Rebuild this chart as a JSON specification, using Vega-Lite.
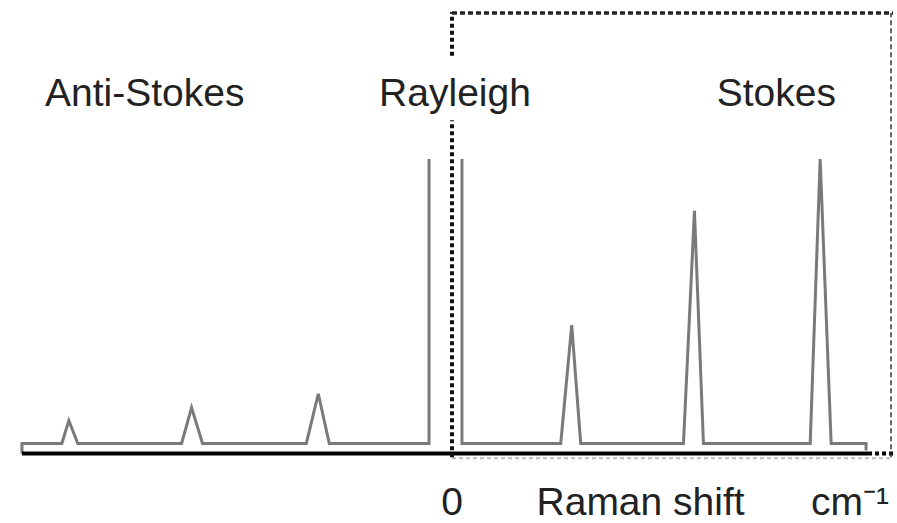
{
  "$schema": "https://vega.github.io/schema/vega-lite/v6.json",
  "width": 897,
  "height": 523,
  "padding": 0,
  "autosize": {"type": "fit", "contains": "padding"},
  "config": {"view": {"stroke": null}, "background": "white"},
  "datasets": {
    "spectrum": [
      {"part": "anti", "shift": -431, "intensity": 0},
      {"part": "anti", "shift": -431, "intensity": 10},
      {"part": "anti", "shift": -391, "intensity": 10},
      {"part": "anti", "shift": -384, "intensity": 33},
      {"part": "anti", "shift": -375, "intensity": 10},
      {"part": "anti", "shift": -271, "intensity": 10},
      {"part": "anti", "shift": -261, "intensity": 46},
      {"part": "anti", "shift": -250, "intensity": 10},
      {"part": "anti", "shift": -146, "intensity": 10},
      {"part": "anti", "shift": -134, "intensity": 60},
      {"part": "anti", "shift": -123, "intensity": 10},
      {"part": "anti", "shift": -23, "intensity": 10},
      {"part": "anti", "shift": -23, "intensity": 296},
      {"part": "stokes", "shift": 10, "intensity": 296},
      {"part": "stokes", "shift": 10, "intensity": 10},
      {"part": "stokes", "shift": 109, "intensity": 10},
      {"part": "stokes", "shift": 120, "intensity": 129},
      {"part": "stokes", "shift": 129, "intensity": 10},
      {"part": "stokes", "shift": 232, "intensity": 10},
      {"part": "stokes", "shift": 243, "intensity": 244},
      {"part": "stokes", "shift": 252, "intensity": 10},
      {"part": "stokes", "shift": 359, "intensity": 10},
      {"part": "stokes", "shift": 369, "intensity": 296},
      {"part": "stokes", "shift": 380, "intensity": 10},
      {"part": "stokes", "shift": 415, "intensity": 10},
      {"part": "stokes", "shift": 415, "intensity": 3}
    ],
    "lines": [
      {"kind": "axis", "x": -431, "x2": 417, "y": 0, "y2": 0},
      {"kind": "axisdots", "x": 417, "x2": 444, "y": 0, "y2": 0},
      {"kind": "boxleft", "x": 0, "x2": 0, "y": -4, "y2": 335},
      {"kind": "boxleft", "x": 0, "x2": 0, "y": 400, "y2": 444},
      {"kind": "boxtop", "x": 0, "x2": 442, "y": 443, "y2": 443},
      {"kind": "boxright", "x": 440, "x2": 440, "y": -4, "y2": 443},
      {"kind": "boxbottom", "x": 0, "x2": 440, "y": -5, "y2": -5}
    ],
    "labels": [
      {"row": "top", "label": "Anti-Stokes", "x": -308, "y": 349},
      {"row": "top", "label": "Rayleigh", "x": 3, "y": 349},
      {"row": "top", "label": "Stokes", "x": 325, "y": 349},
      {"row": "bottom", "label": "0", "x": 0, "y": -62},
      {"row": "bottom", "label": "Raman shift", "x": 189, "y": -62},
      {"row": "bottom", "label": "cm⁻¹", "x": 399, "y": -62}
    ]
  },
  "layer": [
    {
      "data": {"name": "lines"},
      "transform": [{"filter": "datum.kind == 'boxbottom'"}],
      "mark": {"type": "rule", "color": "#bbbbbb", "strokeWidth": 2, "strokeDash": [4, 3]},
      "encoding": {
        "x": {"field": "x", "type": "quantitative", "scale": {"domain": [-453, 444], "nice": false, "zero": false}, "axis": null},
        "x2": {"field": "x2"},
        "y": {"field": "y", "type": "quantitative", "scale": {"domain": [-67, 456], "nice": false, "zero": false}, "axis": null},
        "y2": {"field": "y2"}
      }
    },
    {
      "data": {"name": "spectrum"},
      "mark": {"type": "line", "color": "#7a7a7a", "strokeWidth": 3, "interpolate": "linear"},
      "encoding": {
        "x": {"field": "shift", "type": "quantitative", "scale": {"domain": [-453, 444], "nice": false, "zero": false}, "axis": null},
        "y": {"field": "intensity", "type": "quantitative", "scale": {"domain": [-67, 456], "nice": false, "zero": false}, "axis": null},
        "detail": {"field": "part"},
        "order": {"value": 0}
      }
    },
    {
      "data": {"name": "lines"},
      "transform": [{"filter": "datum.kind == 'axis'"}],
      "mark": {"type": "rule", "color": "#000000", "strokeWidth": 4},
      "encoding": {
        "x": {"field": "x", "type": "quantitative", "scale": {"domain": [-453, 444], "nice": false, "zero": false}, "axis": null},
        "x2": {"field": "x2"},
        "y": {"field": "y", "type": "quantitative", "scale": {"domain": [-67, 456], "nice": false, "zero": false}, "axis": null},
        "y2": {"field": "y2"}
      }
    },
    {
      "data": {"name": "lines"},
      "transform": [{"filter": "datum.kind == 'axisdots'"}],
      "mark": {"type": "rule", "color": "#000000", "strokeWidth": 4, "strokeDash": [4, 3]},
      "encoding": {
        "x": {"field": "x", "type": "quantitative", "scale": {"domain": [-453, 444], "nice": false, "zero": false}, "axis": null},
        "x2": {"field": "x2"},
        "y": {"field": "y", "type": "quantitative", "scale": {"domain": [-67, 456], "nice": false, "zero": false}, "axis": null},
        "y2": {"field": "y2"}
      }
    },
    {
      "data": {"name": "lines"},
      "transform": [{"filter": "datum.kind == 'boxleft'"}],
      "mark": {"type": "rule", "color": "#111111", "strokeWidth": 4, "strokeDash": [4, 3]},
      "encoding": {
        "x": {"field": "x", "type": "quantitative", "scale": {"domain": [-453, 444], "nice": false, "zero": false}, "axis": null},
        "x2": {"field": "x2"},
        "y": {"field": "y", "type": "quantitative", "scale": {"domain": [-67, 456], "nice": false, "zero": false}, "axis": null},
        "y2": {"field": "y2"}
      }
    },
    {
      "data": {"name": "lines"},
      "transform": [{"filter": "datum.kind == 'boxtop'"}],
      "mark": {"type": "rule", "color": "#222222", "strokeWidth": 3.5, "strokeDash": [5, 3]},
      "encoding": {
        "x": {"field": "x", "type": "quantitative", "scale": {"domain": [-453, 444], "nice": false, "zero": false}, "axis": null},
        "x2": {"field": "x2"},
        "y": {"field": "y", "type": "quantitative", "scale": {"domain": [-67, 456], "nice": false, "zero": false}, "axis": null},
        "y2": {"field": "y2"}
      }
    },
    {
      "data": {"name": "lines"},
      "transform": [{"filter": "datum.kind == 'boxright'"}],
      "mark": {"type": "rule", "color": "#333333", "strokeWidth": 1.5, "strokeDash": [5, 3]},
      "encoding": {
        "x": {"field": "x", "type": "quantitative", "scale": {"domain": [-453, 444], "nice": false, "zero": false}, "axis": null},
        "x2": {"field": "x2"},
        "y": {"field": "y", "type": "quantitative", "scale": {"domain": [-67, 456], "nice": false, "zero": false}, "axis": null},
        "y2": {"field": "y2"}
      }
    },
    {
      "data": {"name": "labels"},
      "mark": {"type": "text", "font": "Liberation Sans", "fontSize": 39, "color": "#222222", "align": "center", "baseline": "alphabetic"},
      "encoding": {
        "x": {"field": "x", "type": "quantitative", "scale": {"domain": [-453, 444], "nice": false, "zero": false}, "axis": null},
        "y": {"field": "y", "type": "quantitative", "scale": {"domain": [-67, 456], "nice": false, "zero": false}, "axis": null},
        "text": {"field": "label"}
      }
    }
  ]
}
